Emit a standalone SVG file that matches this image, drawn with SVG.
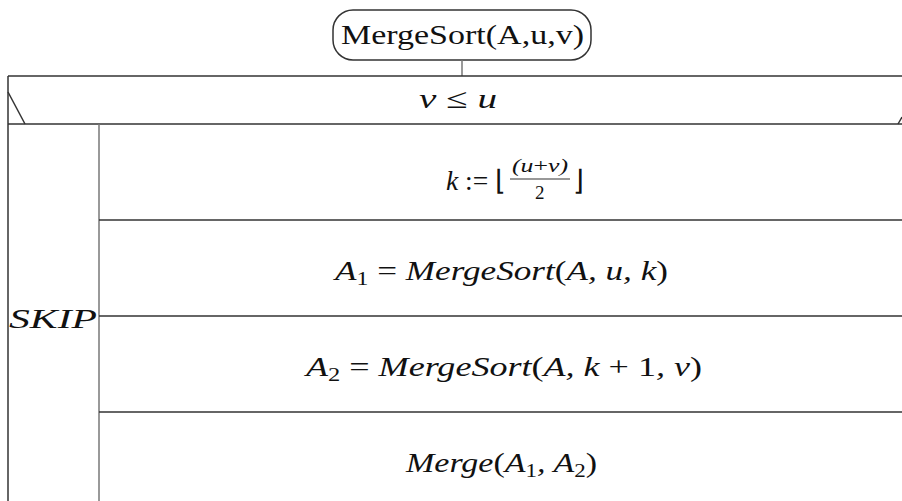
<svg xmlns="http://www.w3.org/2000/svg" width="902" height="501" viewBox="0 0 902 501" font-family="'Liberation Serif', serif">
<style>
.ln{stroke:#333;stroke-width:1.5;fill:none}
.gl{stroke:#777;stroke-width:1.5;fill:none}
.t{font-size:28px;fill:#111}
.m{font-style:italic}
.up{font-style:normal}
.sub{font-size:19px;font-style:normal}
</style>
<rect width="902" height="501" fill="#fff"/>
<g id="start">
<rect x="333" y="10" width="258" height="50" rx="20" ry="20" class="ln"/>
<text x="341" y="44" class="t" textLength="243" lengthAdjust="spacingAndGlyphs">MergeSort(A,u,v)</text>
</g>
<g id="connectors">
<line x1="462" y1="60" x2="462" y2="76" class="gl"/>
</g>
<g id="cond">
<line x1="8" y1="76" x2="902" y2="76" class="ln"/>
<line x1="8" y1="124" x2="902" y2="124" class="ln"/>
<line x1="8" y1="76" x2="8" y2="501" class="ln"/>
<line x1="8" y1="92" x2="25" y2="124" class="ln"/>
<line x1="898" y1="124" x2="902" y2="117" class="ln"/>
<text x="419" y="108" class="t m" textLength="78" lengthAdjust="spacingAndGlyphs">v <tspan class="up">≤</tspan> u</text>
</g>
<g id="skip">
<line x1="99" y1="124" x2="99" y2="501" class="gl"/>
<text x="9" y="328" class="t m" textLength="88" lengthAdjust="spacingAndGlyphs">SKIP</text>
</g>
<g id="row1">
<text x="446" y="190" class="t m" textLength="60" lengthAdjust="spacingAndGlyphs">k <tspan class="up">:= ⌊</tspan></text>
<text x="512" y="172" class="t m" style="font-size:19px" textLength="56" lengthAdjust="spacingAndGlyphs">(u<tspan class="up">+</tspan>v)</text>
<line x1="510" y1="179" x2="570" y2="179" stroke="#333" stroke-width="1.2"/>
<text x="535" y="199" class="t up" style="font-size:19px">2</text>
<text x="573" y="190" class="t up">⌋</text>
<line x1="99" y1="220" x2="902" y2="220" class="ln"/>
</g>
<g id="row2">
<text x="335" y="280" class="t m" textLength="333" lengthAdjust="spacingAndGlyphs">A<tspan class="sub" dy="5">1</tspan><tspan dy="-5" class="up"> = </tspan>MergeSort<tspan class="up">(</tspan>A, u, k<tspan class="up">)</tspan></text>
<line x1="99" y1="316" x2="902" y2="316" class="ln"/>
</g>
<g id="row3">
<text x="306" y="376" class="t m" textLength="396" lengthAdjust="spacingAndGlyphs">A<tspan class="sub" dy="5">2</tspan><tspan dy="-5" class="up"> = </tspan>MergeSort<tspan class="up">(</tspan>A, k <tspan class="up">+ 1</tspan>, v<tspan class="up">)</tspan></text>
<line x1="99" y1="412" x2="902" y2="412" class="ln"/>
</g>
<g id="row4">
<text x="406" y="472" class="t m" textLength="191" lengthAdjust="spacingAndGlyphs">Merge<tspan class="up">(</tspan>A<tspan class="sub" dy="5">1</tspan><tspan dy="-5">, A</tspan><tspan class="sub" dy="5">2</tspan><tspan dy="-5" class="up">)</tspan></text>
</g>
</svg>
